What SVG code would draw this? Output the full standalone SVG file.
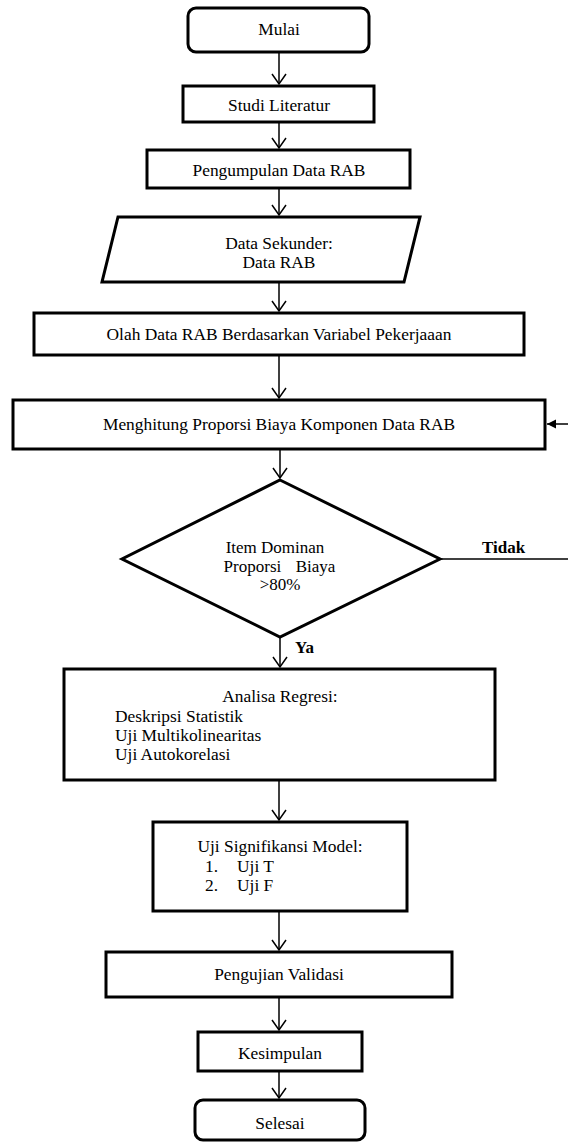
<svg xmlns="http://www.w3.org/2000/svg" width="568" height="1144" viewBox="0 0 568 1144" font-family="'Liberation Serif', 'DejaVu Serif', serif">
<defs>
<style>
.box{fill:#fff;stroke:#000;stroke-width:3}
.t{font-family:'Liberation Serif','DejaVu Serif',serif;font-size:17.4px;fill:#000}
.c{text-anchor:middle}
.b{font-weight:bold;font-size:17px}
.ln{fill:none;stroke:#000;stroke-width:1.5}
.d{font-size:17px}
</style>
<marker id="open" markerUnits="userSpaceOnUse" markerWidth="20" markerHeight="20" viewBox="-12 -10 14 20" refX="0" refY="0" orient="auto">
<path d="M-10,-7 L0,0 L-10,7" fill="none" stroke="#000" stroke-width="1.5"/>
</marker>
<marker id="filled" markerUnits="userSpaceOnUse" markerWidth="12" markerHeight="12" viewBox="-10 -6 12 12" refX="0" refY="0" orient="auto">
<path d="M-9,-4.5 L0,0 L-9,4.5 Z" fill="#000"/>
</marker>
</defs>
<rect width="568" height="1144" fill="#fff"/>
<g id="connectors">
<line class="ln" x1="279" y1="53" x2="279" y2="84" marker-end="url(#open)"/>
<line class="ln" x1="279" y1="123" x2="279" y2="148" marker-end="url(#open)"/>
<line class="ln" x1="279" y1="189" x2="279" y2="215" marker-end="url(#open)"/>
<line class="ln" x1="279" y1="283" x2="279" y2="311" marker-end="url(#open)"/>
<line class="ln" x1="279" y1="356" x2="279" y2="398" marker-end="url(#open)"/>
<line class="ln" x1="280" y1="450" x2="280" y2="478" marker-end="url(#open)"/>
<line class="ln" x1="280" y1="638" x2="280" y2="667" marker-end="url(#open)"/>
<line class="ln" x1="279" y1="781" x2="279" y2="820" marker-end="url(#open)"/>
<line class="ln" x1="279" y1="912" x2="279" y2="950" marker-end="url(#open)"/>
<line class="ln" x1="279" y1="998" x2="279" y2="1030" marker-end="url(#open)"/>
<line class="ln" x1="279" y1="1072" x2="279" y2="1098" marker-end="url(#open)"/>
<line class="ln" x1="441" y1="559" x2="568" y2="559"/>
<line class="ln" x1="568" y1="424" x2="547" y2="424" marker-end="url(#filled)"/>
<text class="t b" x="482" y="553">Tidak</text>
<text class="t b" x="295" y="653">Ya</text>
</g>
<g id="mulai">
<rect class="box" x="188" y="8" width="181" height="44" rx="8"/>
<text class="t c" x="279" y="35">Mulai</text>
</g>
<g id="studi">
<rect class="box" x="183" y="86" width="191" height="36"/>
<text class="t c" x="279" y="111">Studi Literatur</text>
</g>
<g id="pengumpulan">
<rect class="box" x="147" y="150" width="263" height="38"/>
<text class="t c" x="279" y="176">Pengumpulan Data RAB</text>
</g>
<g id="data-sekunder">
<polygon class="box" points="118,217 420,217 404,282 102,282"/>
<text class="t c" x="279" y="249">Data Sekunder:</text>
<text class="t c" x="279" y="268">Data RAB</text>
</g>
<g id="olah">
<rect class="box" x="34" y="313" width="490" height="42"/>
<text class="t c" x="279" y="340">Olah Data RAB Berdasarkan Variabel Pekerjaaan</text>
</g>
<g id="menghitung">
<rect class="box" x="13" y="400" width="532" height="49"/>
<text class="t c" x="279" y="430">Menghitung Proporsi Biaya Komponen Data RAB</text>
</g>
<g id="keputusan">
<polygon class="box" points="280,480 440,559 280,637 122,559"/>
<text class="t c d" x="275" y="553">Item Dominan</text>
<text class="t c d" x="279.5" y="572" xml:space="preserve" word-spacing="3">Proporsi  Biaya</text>
<text class="t c d" x="280" y="590">&gt;80%</text>
</g>
<g id="analisa">
<rect class="box" x="64" y="669" width="431" height="111"/>
<text class="t c" x="280" y="702">Analisa Regresi:</text>
<text class="t" x="115" y="722">Deskripsi Statistik</text>
<text class="t" x="115" y="741">Uji Multikolinearitas</text>
<text class="t" x="115" y="760">Uji Autokorelasi</text>
</g>
<g id="uji-signifikansi">
<rect class="box" x="153" y="822" width="254" height="89"/>
<text class="t c" x="280" y="852">Uji Signifikansi Model:</text>
<text class="t" x="205" y="872">1.</text>
<text class="t" x="237" y="872">Uji T</text>
<text class="t" x="205" y="891">2.</text>
<text class="t" x="237" y="891">Uji F</text>
</g>
<g id="pengujian">
<rect class="box" x="106" y="952" width="346" height="45"/>
<text class="t c" x="279" y="980">Pengujian Validasi</text>
</g>
<g id="kesimpulan">
<rect class="box" x="198" y="1032" width="164" height="39"/>
<text class="t c" x="280" y="1059">Kesimpulan</text>
</g>
<g id="selesai">
<rect class="box" x="195" y="1100" width="170" height="40" rx="8"/>
<text class="t c" x="280" y="1129">Selesai</text>
</g>
</svg>
